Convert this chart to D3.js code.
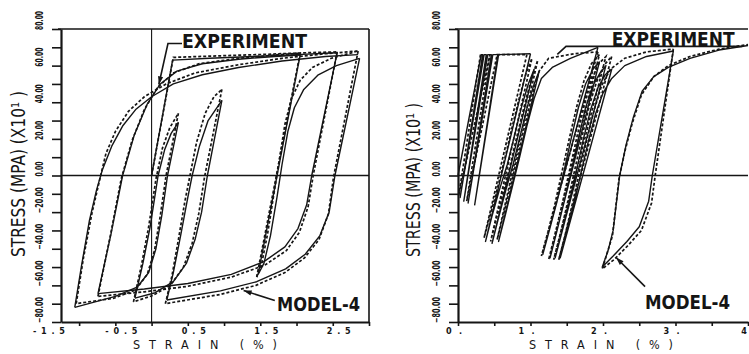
<!DOCTYPE html>
<html>
<head>
<meta charset="utf-8">
<script src="https://cdn.jsdelivr.net/npm/d3@7"></script>
<style>
  html, body { margin: 0; padding: 0; background: #fff; }
  svg { display: block; }
  text { fill: #151515; font-family: "DejaVu Sans Condensed", "DejaVu Sans", sans-serif; }
</style>
</head>
<body>
<div id="chart"></div>
<script>
// ---- data : strain (%), stress (MPa x10) ----
// left panel, experiment (solid)
const expL1 = [[0,0],[0.29,63],[0.8,64],[1.4,65],[2.0,66],[2.56,67]];
const expL2 = [[2.56,67],[2.21,0],[2.14,-16],[2.02,-29],[1.84,-39],[1.55,-47],[1.1,-54],[0.5,-59],[-0.1,-62],[-0.74,-64.5]];
const expL3 = [[-0.74,-64.5],[-0.56,-32],[-0.4,0],[-0.24,22],[-0.06,39],[0.12,50],[0.35,57],[0.7,61],[1.2,63.5],[1.7,65],[2.05,65.8]];
const expL4 = [[2.05,65.8],[1.47,-54]];
const expL5 = [[1.47,-54],[1.55,-48],[1.64,-33],[1.73,-12],[1.8,6],[1.88,24],[1.97,37],[2.1,47],[2.3,55],[2.55,60],[2.87,64]];
const expL6 = [[2.87,64],[2.53,0],[2.45,-20],[2.32,-33],[2.12,-43],[1.85,-51],[1.45,-58],[0.95,-63],[0.21,-68]];
const expL7 = [[0.21,-68],[0.3,-53],[0.4,-33],[0.5,-12],[0.56,0],[0.66,16],[0.78,30],[0.97,41]];
const expL8 = [[0.97,41],[0.77,0],[0.69,-20],[0.6,-35],[0.48,-48],[0.3,-58],[0.05,-64],[-0.23,-67]];
const expL9 = [[-0.23,-67],[-0.12,-48],[-0.02,-28],[0.09,0],[0.18,14],[0.27,23],[0.37,29]];
const expL10 = [[0.37,29],[0.22,0],[0.14,-22],[0.06,-40],[-0.04,-53],[-0.2,-61],[-0.5,-66],[-1.06,-72]];
const expL11 = [[-1.06,-72],[-0.97,-50],[-0.86,-25],[-0.76,-8],[-0.68,3],[-0.55,16],[-0.4,27],[-0.22,36],[0,43],[0.3,50],[0.7,55],[1.2,59],[1.8,62.5],[2.4,65],[2.85,66]];

// left panel, model-4 (dashed)
const modL1 = [[0,0],[0.3,64.5],[0.9,65.3],[1.6,66.2],[2.1,67],[2.56,67.5]];
const modL2 = [[2.56,67.5],[2.23,0],[2.16,-17],[2.04,-31],[1.86,-41],[1.56,-49],[1.1,-55.5],[0.5,-60.5],[-0.1,-63.5],[-0.74,-66]];
const modL3 = [[-0.74,-66],[-0.57,-33],[-0.42,-2],[-0.27,19],[-0.1,36],[0.08,48],[0.3,56],[0.65,61],[1.2,64],[1.7,65.8],[2.05,66.8]];
const modL4 = [[2.05,66.8],[1.45,-55.5]];
const modL5 = [[1.45,-55.5],[1.52,-48],[1.6,-32],[1.68,-12],[1.76,8],[1.84,28],[1.93,42],[2.05,52],[2.22,59],[2.48,64],[2.85,68]];
const modL6 = [[2.85,68],[2.51,-1],[2.44,-21],[2.31,-35],[2.11,-45],[1.84,-53],[1.44,-60],[0.94,-65],[0.19,-70]];
const modL7 = [[0.19,-70],[0.28,-55],[0.37,-35],[0.46,-14],[0.53,0],[0.62,18],[0.74,34],[0.86,43],[0.97,47]];
const modL8 = [[0.97,47],[0.73,-1],[0.65,-21],[0.56,-37],[0.44,-50],[0.26,-60],[0.02,-65.5],[-0.25,-69]];
const modL9 = [[-0.25,-69],[-0.14,-49],[-0.04,-28],[0.06,-2],[0.15,15],[0.25,26],[0.37,34]];
const modL10 = [[0.37,34],[0.2,0],[0.12,-22],[0.04,-41],[-0.06,-54],[-0.22,-62.5],[-0.52,-67],[-1.04,-70]];
const modL11 = [[-1.04,-70],[-0.94,-45],[-0.82,-20],[-0.72,-3],[-0.63,12],[-0.5,24],[-0.32,35],[-0.1,43],[0.2,50],[0.6,56],[1.2,60.5],[1.8,64],[2.4,66.5],[2.85,68]];

// right panel, experiment (solid)
const expR1 = [[0,0],[0.32,66],[0.34,66],[0.03,-12],[0.36,66],[0.39,66],[0.08,-14],[0.41,66],[0.46,66],[0.14,-15],[0.48,66],[0.55,66],[0.23,-16],[0.56,66],[1.0,66.5]];
const expR2 = [[1.0,66.5],[0.38,-36],[0.47,-22],[0.57,-8],[0.68,6],[0.78,22],[0.88,38],[0.97,50],[1.05,58],
  [0.47,-37],[0.56,-23],[0.66,-8],[0.76,6],[0.86,22],[0.96,38],[1.05,50],[1.12,57],
  [0.56,-36],[0.65,-22],[0.75,-6],[0.85,10],[0.95,27],[1.05,42],[1.15,53],[1.3,59],[1.55,64],[1.93,70]];
const expR3 = [[1.93,70],[1.17,-43],[1.26,-30],[1.36,-15],[1.46,2],[1.56,20],[1.66,37],[1.76,50],[1.86,58],[1.95,62],
  [1.27,-45],[1.36,-31],[1.46,-15],[1.56,2],[1.66,20],[1.76,37],[1.86,49],[1.96,56],[2.04,60],
  [1.34,-45],[1.43,-31],[1.53,-15],[1.63,2],[1.73,20],[1.83,36],[1.93,48],[2.03,55],[2.12,58],
  [1.41,-45],[1.5,-31],[1.6,-15],[1.7,2],[1.8,19],[1.9,34],[2.0,45],[2.12,53],[2.3,60],[2.6,65],[2.97,68]];
const expR4 = [[2.97,68],[2.68,0],[2.63,-14],[2.5,-28],[2.33,-36],[2.14,-44],[1.99,-50],[2.07,-41],[2.14,-30],[2.23,0],
  [2.32,17],[2.42,32],[2.54,46],[2.7,54],[2.9,59],[3.2,64],[3.6,68.5],[4.0,71]];

// right panel, model-4 (dashed)
const modR1 = [[0.31,66],[0.01,-11],[0.44,66],[0.12,-14],[0.54,66],[0.95,66]];
const modR2 = [[0.95,66],[0.36,-34],[0.45,-21],[0.55,-6],[0.65,10],[0.75,27],[0.85,43],[0.94,56],[1.02,64],
  [0.45,-36],[0.54,-22],[0.64,-7],[0.74,9],[0.84,26],[0.94,42],[1.03,55],[1.1,63],
  [0.54,-35],[0.63,-21],[0.73,-5],[0.83,12],[0.93,29],[1.03,45],[1.12,57],[1.25,64],[1.6,66.5],[1.93,67.5]];
const modR3 = [[1.93,67.5],[1.15,-44],[1.24,-31],[1.34,-15],[1.44,3],[1.54,21],[1.64,38],[1.74,52],[1.84,61],[1.95,66],
  [1.25,-46],[1.34,-32],[1.44,-15],[1.54,3],[1.64,21],[1.74,38],[1.84,52],[1.94,61],[2.04,65],
  [1.32,-46],[1.41,-32],[1.51,-15],[1.61,3],[1.71,21],[1.81,38],[1.91,51],[2.01,60],[2.12,65],
  [1.39,-46],[1.48,-32],[1.58,-15],[1.68,3],[1.78,20],[1.88,36],[1.98,49],[2.1,58],[2.3,64],[2.6,67.5],[2.97,69]];
const modR4 = [[2.97,69],[2.72,0],[2.67,-15],[2.53,-30],[2.35,-38],[2.15,-46],[1.99,-51],[2.06,-42],[2.13,-33],[2.22,-2],
  [2.3,13],[2.4,28],[2.53,44],[2.7,54],[2.9,60],[3.2,65],[3.6,69],[4.0,71.5]];

// axis ticks / labels
const yTicks = d3.range(-80, 81, 10);
const yLabels = [80, 60, 40, 20, 0, -20, -40, -60, -80];
const xTicksL = d3.range(-1.0, 3.01, 0.5);
const xLabelsL = [-1.5, -0.5, 0.5, 1.5, 2.5];
const xTicksR = d3.range(0, 4.01, 0.5);
const xLabelsR = [[0, "0."], [1, "1."], [2, "2."], [3, "3."], [4, "4"]];

let width = 749;
let height = 354;
let svg = d3.select("#chart").append("svg").attr("width", width).attr("height", height);
svg.append("rect").attr("width", width).attr("height", height).attr("fill", "#fff");

let y = d3.scaleLinear().domain([-80, 80]).range([322, 29]);
const ink = "#151515";

function drawPanel(p) {
  let g = svg.append("g");
  let x = p.x;
  let [x0, x1] = x.range();

  // frame lines
  g.append("line").attr("x1", x0 - 3).attr("x2", x1).attr("y1", y(80)).attr("y2", y(80))
    .attr("stroke", ink).attr("stroke-width", 1.6);
  if (p.rightBorder) {
    g.append("line").attr("x1", x1).attr("x2", x1).attr("y1", y(80)).attr("y2", y(-80))
      .attr("stroke", ink).attr("stroke-width", 1.6);
  }
  g.append("line").attr("x1", x0).attr("x2", x1).attr("y1", y(0)).attr("y2", y(0))
    .attr("stroke", ink).attr("stroke-width", 1.4);
  if (p.zeroV) {
    g.append("line").attr("x1", x(0)).attr("x2", x(0)).attr("y1", y(80)).attr("y2", y(-80))
      .attr("stroke", ink).attr("stroke-width", 1.1);
  }

  // axes
  let yAxis = d3.axisLeft(y).tickValues(yTicks).tickSize(9).tickSizeOuter(0).tickFormat("");
  let yg = g.append("g").attr("transform", `translate(${x0},0)`).call(yAxis);
  let xAxis = d3.axisBottom(x).tickValues(p.xTicks).tickSize(4).tickSizeOuter(0).tickFormat("");
  let xg = g.append("g").attr("transform", `translate(0,${y(-80)})`).call(xAxis);
  [yg, xg].forEach(a => {
    a.select(".domain").attr("stroke", ink).attr("stroke-width", 2.2);
    a.selectAll(".tick line").attr("stroke", ink).attr("stroke-width", 1.6);
  });

  // y tick labels (rotated)
  g.selectAll(".ylab").data(yLabels).enter().append("text")
    .attr("transform", d => `translate(${p.yLabX},${y(d) + 1}) rotate(-90)`)
    .attr("font-size", 10).attr("font-weight", "bold")
    .attr("textLength", d => d < 0 ? 26 : (d === 0 ? 15 : 19))
    .attr("lengthAdjust", "spacingAndGlyphs")
    .text(d => d3.format(".2f")(d));

  // y title
  g.append("text")
    .attr("transform", `translate(${p.titleX},${p.titleY}) rotate(-90)`)
    .attr("text-anchor", "middle").attr("font-size", 19)
    .attr("textLength", p.titleLen).attr("lengthAdjust", "spacingAndGlyphs")
    .text("STRESS (MPA) (X10\u00B9 )");

  // x tick labels
  g.selectAll(".xlab").data(p.xLabels).enter().append("text")
    .attr("x", d => x(d[0]) + p.xLabOff)
    .attr("y", 334)
    .attr("text-anchor", "middle")
    .attr("font-family", "DejaVu Sans Mono, monospace")
    .attr("font-weight", "bold").attr("font-size", 9)
    .attr("textLength", d => d[1].length * 8)
    .attr("lengthAdjust", "spacing")
    .text(d => d[1]);

  // x title
  g.append("text")
    .attr("x", p.xTitleX).attr("y", 349)
    .attr("text-anchor", "middle")
    .attr("font-family", "DejaVu Sans, sans-serif")
    .attr("font-size", 12.5)
    .attr("textLength", 144).attr("lengthAdjust", "spacing")
    .text("STRAIN (%)");

  // curves
  let line = d3.line().x(d => x(d[0])).y(d => y(d[1]));
  g.selectAll(".exp").data(p.exp).enter().append("path")
    .attr("d", line).attr("fill", "none").attr("stroke", ink)
    .attr("stroke-width", 1.4).attr("stroke-linejoin", "round");
  g.selectAll(".mod").data(p.mod).enter().append("path")
    .attr("d", line).attr("fill", "none").attr("stroke", ink)
    .attr("stroke-width", 1.7).attr("stroke-dasharray", "3,2");

  // annotations
  p.notes.forEach(n => {
    let pts = n.path.map(d => [x(d[0]), y(d[1])]);
    g.append("path").attr("d", d3.line()(pts)).attr("fill", "none")
      .attr("stroke", ink).attr("stroke-width", 1.6);
    let [ax, ay] = pts[pts.length - 1];
    let [bx, by] = pts[pts.length - 2];
    let ang = Math.atan2(ay - by, ax - bx);
    let L = 8, w = 2.6;
    let tri = [[ax, ay],
      [ax - L * Math.cos(ang) + w * Math.sin(ang), ay - L * Math.sin(ang) - w * Math.cos(ang)],
      [ax - L * Math.cos(ang) - w * Math.sin(ang), ay - L * Math.sin(ang) + w * Math.cos(ang)]];
    if (n.arrow) g.append("path").attr("d", d3.line()(tri) + "Z").attr("fill", ink);
    g.append("text")
      .attr("x", x(n.at[0])).attr("y", y(n.at[1]))
      .attr("font-size", 20).attr("font-weight", "bold")
      .attr("textLength", n.len).attr("lengthAdjust", "spacingAndGlyphs")
      .text(n.text);
  });
}

drawPanel({
  x: d3.scaleLinear().domain([-1.25, 3.0]).range([61, 369]),
  xTicks: xTicksL,
  xLabels: xLabelsL.map(v => [v, v.toFixed(1)]),
  xLabOff: 6,
  xTitleX: 205,
  yLabX: 43,
  titleX: 25, titleY: 174, titleLen: 166,
  rightBorder: true, zeroV: true,
  exp: [expL1, expL2, expL3, expL4, expL5, expL6, expL7, expL8, expL9, expL10, expL11],
  mod: [modL1, modL2, modL3, modL4, modL5, modL6, modL7, modL8, modL9, modL10, modL11],
  notes: [
    { text: "EXPERIMENT", at: [0.42, 69.4], len: 125, arrow: true, path: [[0.42, 72.1], [0.226, 72.1], [0.10, 49.7]] },
    { text: "MODEL-4", at: [1.73, -73.8], len: 83, arrow: true, path: [[1.70, -68.3], [1.27, -62.8]] }
  ]
});

drawPanel({
  x: d3.scaleLinear().domain([0, 4]).range([458, 748]),
  xTicks: xTicksR,
  xLabels: xLabelsR,
  xLabOff: -4,
  xTitleX: 601,
  yLabX: 440,
  titleX: 420, titleY: 180, titleLen: 154,
  rightBorder: false, zeroV: false,
  exp: [expR1, expR2, expR3, expR4],
  mod: [modR1, modR2, modR3, modR4],
  notes: [
    { text: "EXPERIMENT", at: [2.12, 70.5], len: 123, arrow: false, path: [[3.92, 70.5], [1.49, 70.5], [1.37, 66.1]] },
    { text: "MODEL-4", at: [2.58, -72.7], len: 85, arrow: true, path: [[2.58, -60.7], [2.18, -44.8]] }
  ]
});
</script>
</body>
</html>
